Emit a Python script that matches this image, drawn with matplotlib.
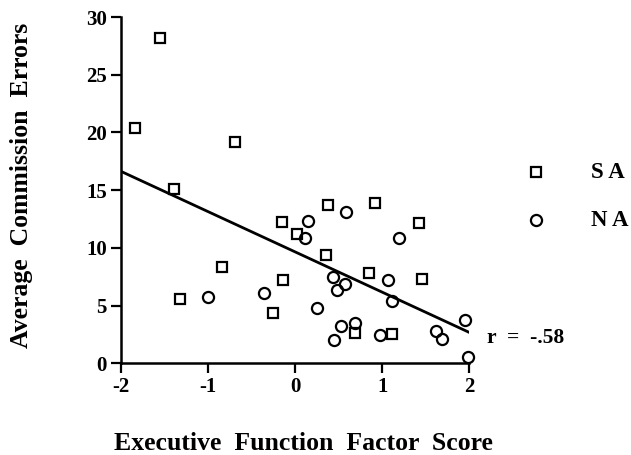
import matplotlib
matplotlib.use("Agg")
import matplotlib.pyplot as plt

# SA group (squares)
sa_x = [-1.55, -1.83, -0.69, -1.39, -1.32, -0.84, -0.25, -0.15, 0.025, 0.38,
        0.915, 1.42, 0.36, -0.14, 0.85, 1.46, 0.69, 1.11]
sa_y = [28.2, 20.4, 19.2, 15.1, 5.57, 8.32, 4.36, 12.25, 11.18, 13.76,
        13.87, 12.17, 9.42, 7.22, 7.83, 7.31, 2.67, 2.5]

# NA group (circles)
na_x = [-0.995, -0.36, 0.15, 0.12, 0.59, 1.19, 0.43, 0.57, 0.485, 1.07,
        1.11, 0.25, 0.53, 0.69, 0.45, 0.97, 1.62, 1.68, 1.95, 1.98]
na_y = [5.71, 6.06, 12.37, 10.87, 13.15, 10.87, 7.45, 6.87, 6.35, 7.25,
        5.43, 4.79, 3.26, 3.52, 2.01, 2.45, 2.82, 2.15, 3.78, 0.56]

# regression line end points
fit_x = [-2.0, 2.0]
fit_y = [16.65, 2.67]

x_ticks = [-2, -1, 0, 1, 2]
y_ticks = [0, 5, 10, 15, 20, 25, 30]

plt.rcParams['font.family'] = ['Liberation Serif', 'DejaVu Serif']
plt.rcParams['font.weight'] = 'bold'

W, H = 631, 455
fig = plt.figure(figsize=(W / 100, H / 100), dpi=100)
ax = fig.add_axes([0.191, 0.2015, 0.553, 0.761])

ax.plot(fit_x, fit_y, color='black', linewidth=2.0, zorder=2)
ax.plot(sa_x, sa_y, linestyle='none', marker='s', markersize=7.5,
        markerfacecolor='none', markeredgecolor='black', markeredgewidth=1.6,
        clip_on=False, zorder=3)
ax.plot(na_x, na_y, linestyle='none', marker='o', markersize=8,
        markerfacecolor='none', markeredgecolor='black', markeredgewidth=1.6,
        clip_on=False, zorder=3)

ax.set_xlim(-2, 2)
ax.set_ylim(0, 30)
ax.set_xticks(x_ticks)
ax.set_yticks(y_ticks)
ax.set_xticklabels([str(t) for t in x_ticks], fontsize=15, fontweight='bold')
ax.set_yticklabels([str(t) for t in y_ticks], fontsize=15, fontweight='bold')

for side in ['top', 'right']:
    ax.spines[side].set_visible(False)
for side in ['left', 'bottom']:
    ax.spines[side].set_linewidth(1.8)
ax.tick_params(direction='out', length=7, width=1.6, pad=3)

# axis titles
fig.text(303 / W, 1 - 443 / H, 'Executive  Function  Factor  Score', fontsize=18.5,
         fontweight='bold', ha='center', va='center')
fig.text(22 / W, 1 - 185 / H, 'Average  Commission  Errors', fontsize=18.5,
         fontweight='bold', ha='center', va='center', rotation=90)

ax.text(2.2, 2.2, 'r  =  -.58', fontsize=15.5, fontweight='bold',
        ha='left', va='center', clip_on=False)

# legend drawn by hand
fig.lines.append(plt.Line2D([535.7 / W], [1 - 172.3 / H], transform=fig.transFigure,
                            marker='s', markersize=7.5, markerfacecolor='none',
                            markeredgecolor='black', markeredgewidth=1.6, linestyle='none'))
fig.lines.append(plt.Line2D([535.7 / W], [1 - 220 / H], transform=fig.transFigure,
                            marker='o', markersize=8, markerfacecolor='none',
                            markeredgecolor='black', markeredgewidth=1.6, linestyle='none'))
fig.text(591 / W, 1 - 172.3 / H, 'S A', fontsize=16.5, fontweight='bold',
         ha='left', va='center')
fig.text(591 / W, 1 - 220 / H, 'N A', fontsize=16.5, fontweight='bold',
         ha='left', va='center')

fig.savefig('out.png', dpi=100)
